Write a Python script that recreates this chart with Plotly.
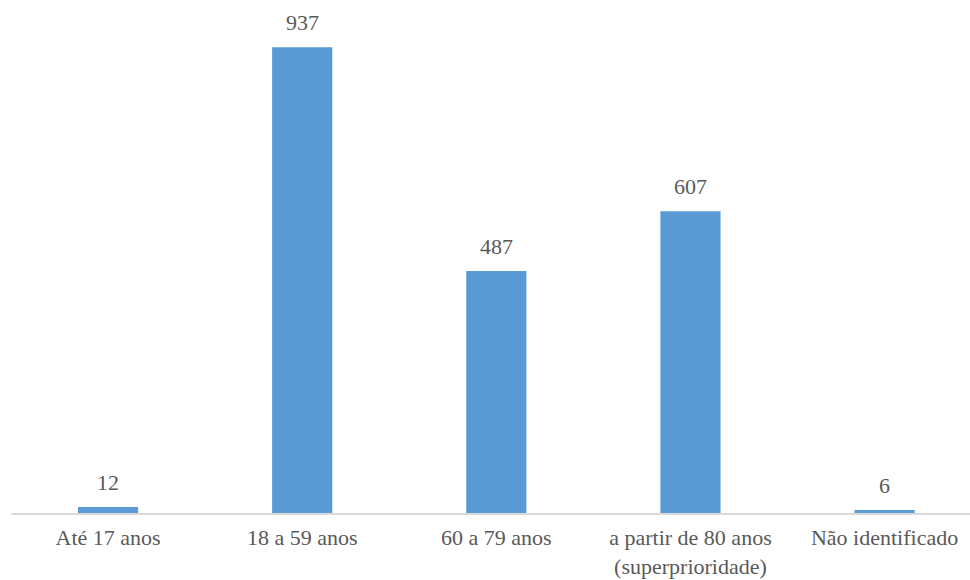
import plotly.graph_objects as go

categories = ["Até 17 anos", "18 a 59 anos", "60 a 79 anos",
              "a partir de 80 anos<br>(superprioridade)", "Não identificado"]
values = [12, 937, 487, 607, 6]

bar_color = "#5B9BD5"
text_color = "#595959"
font_family = "'Times New Roman', 'Liberation Serif', Tinos, 'DejaVu Serif', serif"

fig = go.Figure()
fig.add_trace(go.Bar(x=categories, y=values, marker_color=bar_color,
                     marker_line_width=0, hoverinfo="skip"))

for c, v in zip(categories, values):
    fig.add_annotation(x=c, y=v, text=str(v), showarrow=False,
                       yanchor="bottom", yshift=10,
                       font=dict(family=font_family, size=22, color=text_color))

fig.update_layout(
    width=970, height=580,
    margin=dict(l=11, r=0, t=16, b=67),
    plot_bgcolor="white", paper_bgcolor="white",
    bargap=0.69,
    showlegend=False,
    font=dict(family=font_family, size=22, color=text_color),
    xaxis=dict(showline=True, linecolor="#D9D9D9", linewidth=1.5,
               range=[-0.5, 4.44], automargin=False,
               ticks="", showgrid=False,
               tickfont=dict(family=font_family, size=22, color=text_color),
               ticklabelstandoff=4),
    yaxis=dict(range=[0, 1000], visible=False, showgrid=False, zeroline=False,
               automargin=False),
)

fig.write_html("out.html")
